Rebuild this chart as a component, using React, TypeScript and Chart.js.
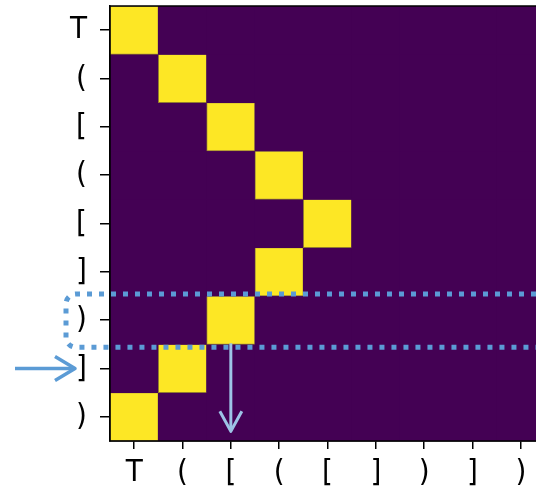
import React, { useEffect, useRef } from "react";
import { Chart, registerables } from "chart.js";

Chart.register(...registerables);

// ---- data ----
const rowLabels = ["T", "(", "[", "(", "[", "]", ")", "]", ")"];
const colLabels = ["T", "(", "[", "(", "[", "]", ")", "]", ")"];
// column holding the value 1 for each row (all other cells are 0)
const activeCol = [0, 1, 2, 3, 4, 3, 2, 1, 0];
const cellValues: number[][] = rowLabels.map((_, r) =>
  colLabels.map((_, c) => (c === activeCol[r] ? 1 : 0))
);
const highlightRow = 6; // dotted box row
const pointerRow = 7; // row pointed by left arrow
const dropCol = 2; // column of the downward arrow

const LOW = "#440154";
const HIGH = "#fde725";
const FONT = "'DejaVu Sans Condensed', 'DejaVu Sans', sans-serif";

const CANVAS_W = 560;
const CANVAS_H = 492;

const annotations = {
  id: "annotations",
  afterDraw(chart: any) {
    const ctx = chart.ctx as CanvasRenderingContext2D;
    const { left, top, right, bottom } = chart.chartArea;
    const xs = chart.scales.x;
    const ys = chart.scales.y;
    ctx.save();
    // frame
    ctx.strokeStyle = "#000";
    ctx.lineWidth = 1.5;
    ctx.strokeRect(left, top, right - left, bottom - top);

    // dotted rounded box around highlighted row
    const yT = ys.getPixelForValue(highlightRow) - 2;
    const yB = ys.getPixelForValue(highlightRow + 1) + 3;
    const xL = left - 44;
    const xR = chart.width;
    const r = 10;
    ctx.beginPath();
    ctx.moveTo(xR, yT);
    ctx.lineTo(xL + r, yT);
    ctx.arcTo(xL, yT, xL, yT + r, r);
    ctx.lineTo(xL, yB - r);
    ctx.arcTo(xL, yB, xL + r, yB, r);
    ctx.lineTo(xR, yB);
    ctx.setLineDash([5, 7]);
    ctx.lineWidth = 5;
    ctx.lineCap = "butt";
    ctx.strokeStyle = "#5b9bd5";
    ctx.stroke();
    ctx.setLineDash([]);

    // left arrow
    const ya = ys.getPixelForValue(pointerRow + 0.5);
    const x0 = 15;
    const x1 = left - 35;
    ctx.lineWidth = 3.5;
    ctx.lineJoin = "round";
    ctx.strokeStyle = "#5b9bd5";
    ctx.beginPath();
    ctx.moveTo(x0, ya);
    ctx.lineTo(x1 - 1, ya);
    ctx.stroke();
    ctx.beginPath();
    ctx.moveTo(x1 - 20, ya - 12);
    ctx.lineTo(x1, ya);
    ctx.lineTo(x1 - 20, ya + 12);
    ctx.stroke();

    // down arrow
    const xd = xs.getPixelForValue(dropCol);
    const yd0 = ys.getPixelForValue(pointerRow) - 1;
    const yd1 = ys.getPixelForValue(8.8);
    ctx.strokeStyle = "#9dc3e6";
    ctx.lineWidth = 3;
    ctx.beginPath();
    ctx.moveTo(xd, yd0);
    ctx.lineTo(xd, yd1 - 1);
    ctx.stroke();
    ctx.beginPath();
    ctx.moveTo(xd - 11, yd1 - 20);
    ctx.lineTo(xd, yd1);
    ctx.lineTo(xd + 11, yd1 - 20);
    ctx.stroke();
    ctx.restore();
  },
};

export default function App() {
  const ref = useRef<HTMLCanvasElement | null>(null);

  useEffect(() => {
    if (!ref.current) return;
    const datasets = rowLabels.map((_, r) => ({
      label: rowLabels[r],
      data: colLabels.map(() => [r, r + 1]),
      backgroundColor: cellValues[r].map((v) => (v ? HIGH : LOW)),
      borderColor: cellValues[r].map((v) => (v ? "rgba(150,130,40,0.9)" : LOW)),
      borderWidth: cellValues[r].map((v) => (v ? 1 : 0)),
      borderSkipped: false,
      barPercentage: 1,
      categoryPercentage: 1,
      grouped: false,
    }));

    const chart = new Chart(ref.current, {
      type: "bar",
      data: { labels: colLabels, datasets: datasets as any },
      plugins: [annotations],
      options: {
        animation: false,
        responsive: false,
        maintainAspectRatio: false,
        layout: { padding: { top: 6, right: CANVAS_W - 545, left: 0, bottom: 0 } },
        plugins: { legend: { display: false }, tooltip: { enabled: false } },
        scales: {
          x: {
            type: "category",
            offset: true,
            grid: {
              display: true,
              offset: false,
              drawOnChartArea: false,
              tickLength: 8,
              color: "#000",
              lineWidth: 1.5,
            },
            border: { display: true, color: "#000", width: 1.5 },
            ticks: {
              color: "#000",
              font: { family: FONT, size: 31 },
              padding: 5,
              maxRotation: 0,
              autoSkip: false,
            },
            afterFit: (s: any) => {
              s.height = CANVAS_H - 441;
              s.paddingLeft = 0;
              s.paddingRight = 0;
            },
          },
          y: {
            type: "linear",
            min: 0,
            max: rowLabels.length,
            reverse: true,
            afterBuildTicks: (s: any) => {
              s.ticks = rowLabels.map((_, i) => ({ value: i + 0.5 }));
            },
            grid: {
              display: true,
              drawOnChartArea: false,
              tickLength: 10,
              color: "#000",
              lineWidth: 1.5,
            },
            border: { display: true, color: "#000", width: 1.5 },
            ticks: {
              color: "#000",
              font: { family: FONT, size: 31 },
              padding: 13,
              callback: (_v: any, i: number) => rowLabels[i],
            },
            afterFit: (s: any) => {
              s.width = 110;
              s.paddingTop = 0;
              s.paddingBottom = 0;
            },
          },
        },
      } as any,
    });
    return () => chart.destroy();
  }, []);

  return (
    <div
      style={{
        position: "fixed",
        left: 0,
        top: 0,
        width: 536,
        height: 492,
        overflow: "hidden",
        background: "#fff",
      }}
    >
      <canvas
        ref={ref}
        width={CANVAS_W}
        height={CANVAS_H}
        style={{ display: "block", width: CANVAS_W, height: CANVAS_H }}
      />
    </div>
  );
}
